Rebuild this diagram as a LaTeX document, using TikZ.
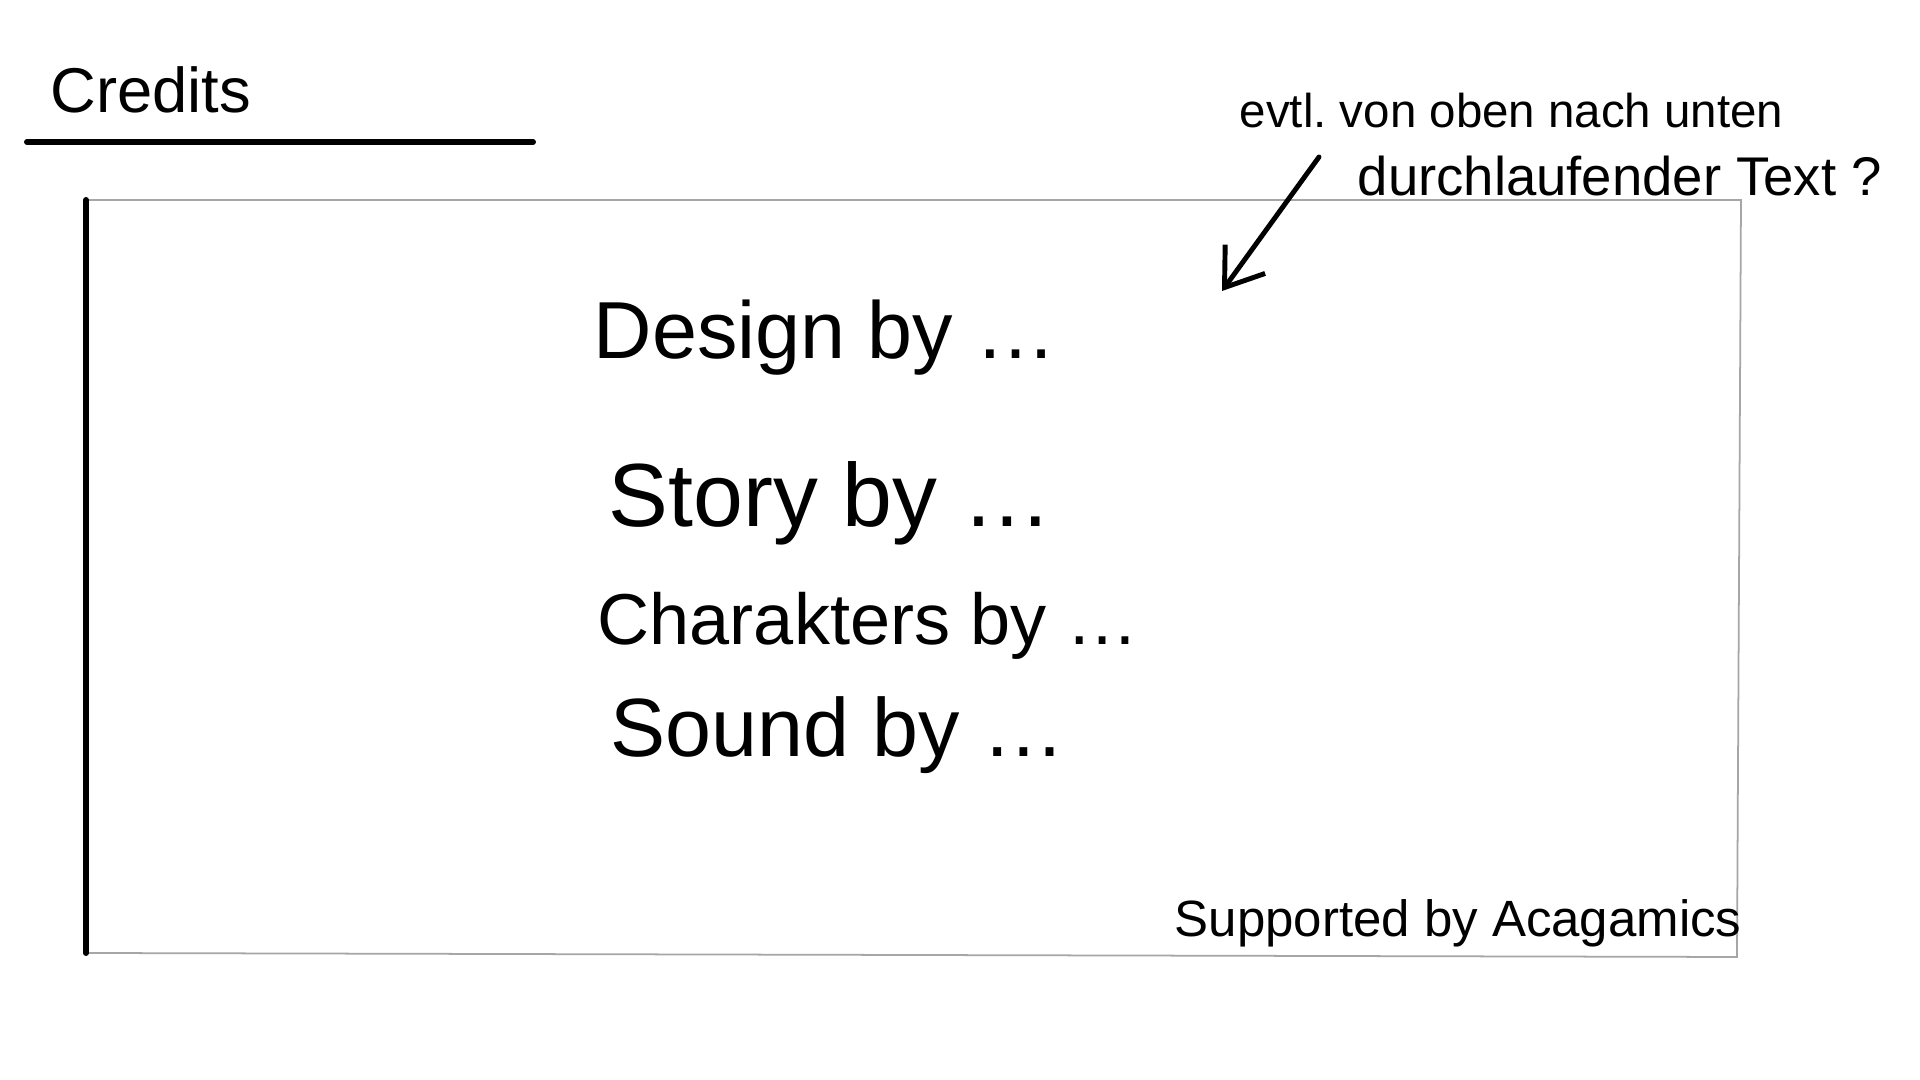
\documentclass[tikz,border=0pt]{standalone}
\usepackage{fontspec}
\setmainfont{Liberation Sans}
\usetikzlibrary{arrows.meta}
\tikzset{
  credit/.style={anchor=base west, inner sep=0pt, font=\fontsize{24}{29}\selectfont},
  note/.style={anchor=base west, inner sep=0pt, font=\fontsize{13.5}{16}\selectfont},
  thick stroke/.style={line width=1.7pt, line cap=round},
  frame/.style={draw=gray!70, line width=0.5pt},
}
\begin{document}
\begin{tikzpicture}[x=0.01cm, y=-0.01cm]
\useasboundingbox[fill=white] (0,0) rectangle (1920,1080);
% title
\node[anchor=base west, inner sep=0pt, font=\fontsize{18}{22}\selectfont] (title) at (50,113) {Credits};
\coordinate (ulA) at (27,142);
\coordinate (ulB) at (533,142);
\draw[thick stroke] (ulA) -- (ulB);
% frame
\coordinate (tl) at (86,200);
\coordinate (tr) at (1741,200);
\coordinate (br) at (1737,957);
\coordinate (bl) at (86,953);
\draw[frame] (tl) -- (tr) -- (br) -- (bl);
\draw[thick stroke] (tl) -- (bl);
% credit lines
\node[credit, font=\fontsize{23}{28}\selectfont] (design) at (593,359) {Design by \dots};
\node[credit, font=\fontsize{25.5}{30}\selectfont] (story) at (608,527) {Story by \dots};
\node[credit, font=\fontsize{20.5}{25}\selectfont] (chars) at (597,645) {Charakters by \dots};
\node[credit, font=\fontsize{23.5}{28}\selectfont] (sound) at (610,757) {Sound by \dots};
% annotation
\node[note] (note1) at (1239,128) {evtl.\ von oben nach unten};
\node[note, font=\fontsize{15.5}{18}\selectfont] (note2) at (1357,196) {durchlaufender Text ?};
\coordinate (arrS) at (1319,157);
\coordinate (arrE) at (1222,291);
\draw[line width=1.4pt, line cap=round, -{Straight Barb[length=10pt,width=14pt,line width=1.4pt]}] (arrS) -- (arrE);
% supported
\node[note, font=\fontsize{14.5}{17}\selectfont] (support) at (1174,937) {Supported by Acagamics};
\end{tikzpicture}
\end{document}
